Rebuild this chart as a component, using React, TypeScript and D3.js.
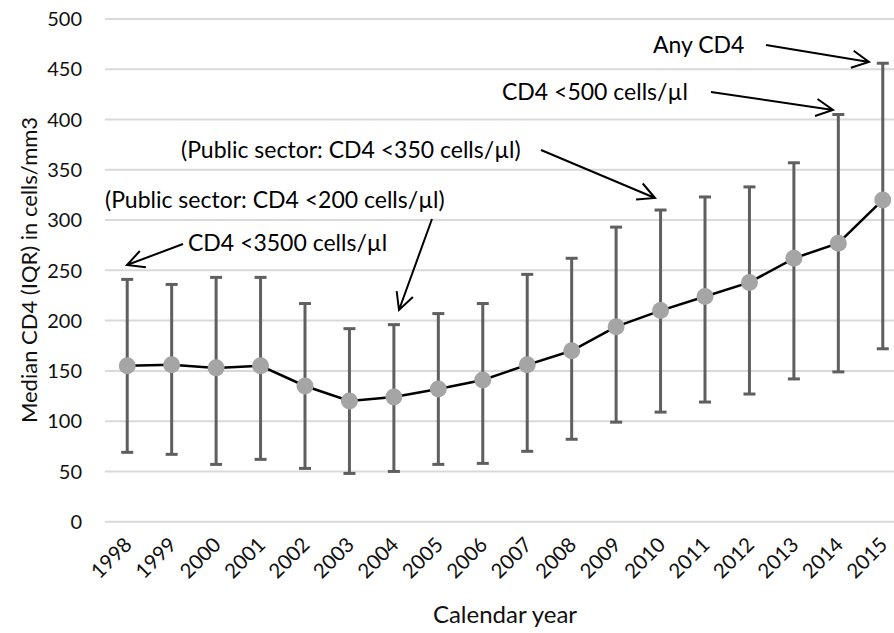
// @ts-nocheck
import { useRef, useEffect } from "react";
import * as d3 from "d3";

const years = [
  "1998", "1999", "2000", "2001", "2002", "2003", "2004", "2005", "2006",
  "2007", "2008", "2009", "2010", "2011", "2012", "2013", "2014", "2015",
];
const median = [155, 156, 153, 155, 135, 120, 124, 132, 141, 156, 170, 194, 210, 224, 238, 262, 277, 320];
const q1 = [69, 67, 57, 62, 53, 48, 50, 57, 58, 70, 82, 99, 109, 119, 127, 142, 149, 172];
const q3 = [241, 236, 243, 243, 217, 192, 196, 207, 217, 246, 262, 293, 310, 323, 333, 357, 405, 456];
const yTicks = [0, 50, 100, 150, 200, 250, 300, 350, 400, 450, 500];

// text + arrow (pixel layout for the callouts)
const notes = [
  { text: "Any CD4", tx: 653, ty: 45, from: [766, 45], to: [869, 62] },
  { text: "CD4 <500 cells/µl", tx: 502, ty: 92, from: [711, 92], to: [833, 110] },
  { text: "(Public sector: CD4 <350 cells/µl)", tx: 181, ty: 150, from: [541, 150], to: [655, 198] },
  { text: "(Public sector: CD4 <200 cells/µl)", tx: 105, ty: 200, from: [432, 219], to: [399, 310] },
  { text: "CD4 <3500 cells/µl", tx: 188, ty: 243, from: [183, 244], to: [127, 265] },
];

const FONT = "Lato, 'Open Sans', sans-serif";

const App = () => {
  const svgRef = useRef();
  const width = 894;
  const height = 633;

  useEffect(() => {
    const svg = d3.select(svgRef.current);
    svg.selectAll("*").remove();

    const x = d3.scaleBand().domain(years).range([105, 905]);
    const y = d3.scaleLinear().domain([0, 500]).range([521.7, 19]);
    const cx = (d) => x(d) + x.bandwidth() / 2;

    // gridlines
    svg
      .append("g")
      .selectAll("line")
      .data(yTicks)
      .enter()
      .append("line")
      .attr("x1", 105)
      .attr("x2", 905)
      .attr("y1", (d) => y(d))
      .attr("y2", (d) => y(d))
      .attr("stroke", "#d9d9d9")
      .attr("stroke-width", 2);

    // y tick labels
    svg
      .append("g")
      .selectAll("text")
      .data(yTicks)
      .enter()
      .append("text")
      .attr("x", 82)
      .attr("y", (d) => y(d))
      .attr("dy", "0.36em")
      .attr("text-anchor", "end")
      .attr("font-family", FONT)
      .attr("font-size", 20)
      .attr("fill", "#111")
      .text((d) => d);

    // x tick labels
    svg
      .append("g")
      .selectAll("text")
      .data(years)
      .enter()
      .append("text")
      .attr("transform", (d) => `translate(${cx(d) + 6},${546}) rotate(-45)`)
      .attr("text-anchor", "end")
      .attr("font-family", FONT)
      .attr("font-size", 20.5)
      .attr("fill", "#111")
      .text((d) => d);

    // axis titles
    svg
      .append("text")
      .attr("x", 505)
      .attr("y", 623)
      .attr("text-anchor", "middle")
      .attr("font-family", FONT)
      .attr("font-size", 24)
      .attr("fill", "#111")
      .text("Calendar year");

    svg
      .append("text")
      .attr("transform", `translate(37,270) rotate(-90)`)
      .attr("text-anchor", "middle")
      .attr("font-family", FONT)
      .attr("font-size", 22)
      .attr("fill", "#111")
      .text("Median CD4 (IQR) in cells/mm3");

    // error bars
    const eb = svg.append("g").attr("stroke", "#5f5f5f").attr("stroke-width", 3);
    years.forEach((yr, i) => {
      eb.append("line")
        .attr("x1", cx(yr))
        .attr("x2", cx(yr))
        .attr("y1", y(q1[i]))
        .attr("y2", y(q3[i]));
      [q1[i], q3[i]].forEach((v) => {
        eb.append("line")
          .attr("x1", cx(yr) - 6)
          .attr("x2", cx(yr) + 6)
          .attr("y1", y(v))
          .attr("y2", y(v));
      });
    });

    // median line
    const line = d3
      .line()
      .x((d, i) => cx(years[i]))
      .y((d) => y(d));

    svg
      .append("path")
      .datum(median)
      .attr("d", line)
      .attr("fill", "none")
      .attr("stroke", "#000")
      .attr("stroke-width", 2.5);

    svg
      .append("g")
      .selectAll("circle")
      .data(median)
      .enter()
      .append("circle")
      .attr("cx", (d, i) => cx(years[i]))
      .attr("cy", (d) => y(d))
      .attr("r", 8.5)
      .attr("fill", "#a5a5a5");

    // callouts
    const ng = svg.append("g");
    notes.forEach((n) => {
      ng.append("text")
        .attr("x", n.tx)
        .attr("y", n.ty)
        .attr("dy", "0.35em")
        .attr("font-family", FONT)
        .attr("font-size", 23)
        .attr("fill", "#000")
        .text(n.text);

      const [x1, y1] = n.from;
      const [x2, y2] = n.to;
      const a = Math.atan2(y2 - y1, x2 - x1);
      const len = 19;
      const spread = (27 * Math.PI) / 180;
      const path = d3.path();
      path.moveTo(x1, y1);
      path.lineTo(x2, y2);
      path.moveTo(x2 - len * Math.cos(a - spread), y2 - len * Math.sin(a - spread));
      path.lineTo(x2, y2);
      path.lineTo(x2 - len * Math.cos(a + spread), y2 - len * Math.sin(a + spread));
      ng.append("path")
        .attr("d", path.toString())
        .attr("fill", "none")
        .attr("stroke", "#000")
        .attr("stroke-width", 2);
    });
  }, []);

  return (
    <svg
      ref={svgRef}
      width={width}
      height={height}
      style={{ position: "absolute", left: 0, top: 0, background: "#fff" }}
    ></svg>
  );
};

export default App;
